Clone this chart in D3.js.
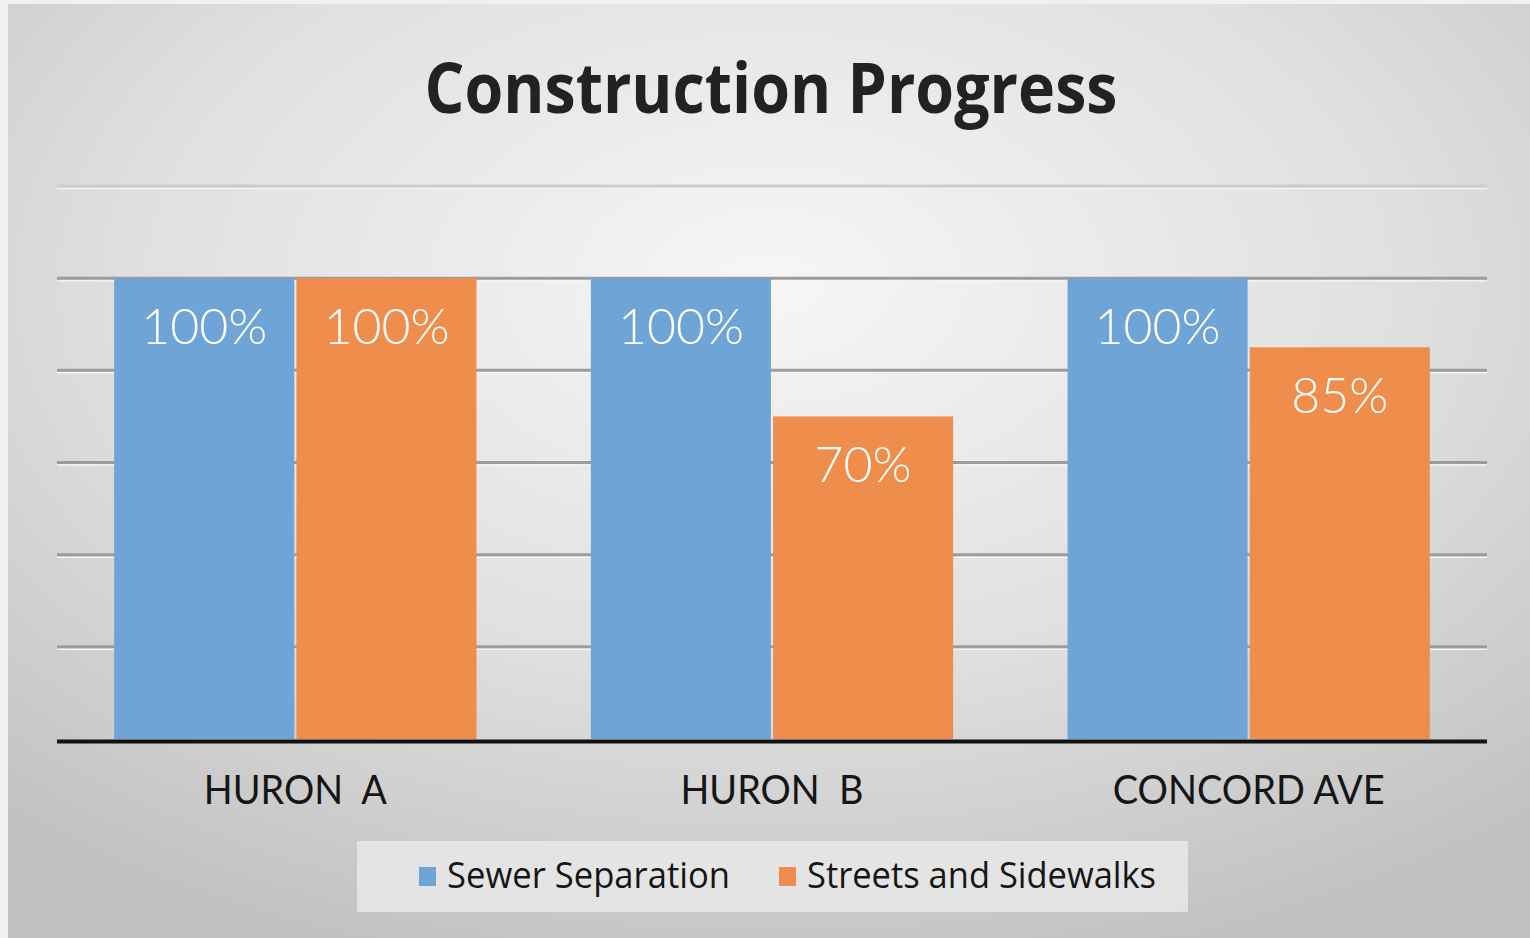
<!DOCTYPE html>
<html>
<head>
<meta charset="utf-8">
<title>Construction Progress</title>
<script src="https://d3js.org/d3.v7.min.js"></script>
<style>
  html, body { margin: 0; padding: 0; background: #f1f1f1; }
  svg { display: block; }
</style>
</head>
<body>
<script>
// data
var categories = ["HURON  A", "HURON  B", "CONCORD AVE"];
var seriesNames = ["Sewer Separation", "Streets and Sidewalks"];
var sewer = [1.00, 1.00, 1.00];
var streets = [1.00, 0.70, 0.85];
var tickValues = [0, 0.2, 0.4, 0.6, 0.8, 1.0, 1.2];
var colors = ["#6fa4d6", "#ee8d4c"];

var W = 1530, H = 938;
var plot = {left: 57, right: 1487, top: 186, bottom: 739};

var svg = d3.select("body").append("svg")
    .attr("width", W).attr("height", H);

// panel background with radial shading
var defs = svg.append("defs");
var grad = defs.append("radialGradient").attr("id", "bg")
    .attr("cx", "50%").attr("cy", "30%").attr("r", "75%");
grad.append("stop").attr("offset", "0%").attr("stop-color", "#f6f6f6");
grad.append("stop").attr("offset", "55%").attr("stop-color", "#e0e0e0");
grad.append("stop").attr("offset", "100%").attr("stop-color", "#c2c2c2");

svg.append("rect").attr("x", 8).attr("y", 4)
    .attr("width", W - 8).attr("height", H - 4)
    .attr("fill", "url(#bg)");

var x0 = d3.scaleBand().domain(categories)
    .range([plot.left, plot.right])
    .paddingInner(0.24).paddingOuter(0.12);
var x1 = d3.scaleBand().domain(seriesNames)
    .range([0, x0.bandwidth()]).paddingInner(0.012);
var y = d3.scaleLinear().domain([0, 1.2]).range([plot.bottom, plot.top]);

// gridlines
var grid = svg.append("g");
grid.selectAll("line.shadow").data(tickValues.slice(1)).enter().append("line")
    .attr("x1", plot.left).attr("x2", plot.right)
    .attr("y1", function(d) { return y(d) + 2.5; })
    .attr("y2", function(d) { return y(d) + 2.5; })
    .attr("stroke", "#f4f4f4").attr("stroke-width", 1.5);
grid.selectAll("line.grid").data(tickValues.slice(1)).enter().append("line")
    .attr("x1", plot.left).attr("x2", plot.right)
    .attr("y1", function(d) { return y(d); })
    .attr("y2", function(d) { return y(d); })
    .attr("stroke", function(d) { return d > 1.1 ? "#cdcdcd" : "#9c9c9c"; })
    .attr("stroke-width", 3);

// bars
var rows = categories.map(function(c, i) {
  return {cat: c, values: [sewer[i], streets[i]]};
});
var groups = svg.selectAll("g.cat").data(rows).enter().append("g")
    .attr("transform", function(d) { return "translate(" + x0(d.cat) + ",0)"; });

groups.selectAll("rect").data(function(d) {
    return d.values.map(function(v, j) { return {name: seriesNames[j], v: v, j: j}; });
  }).enter().append("rect")
    .attr("x", function(d) { return x1(d.name); })
    .attr("y", function(d) { return y(d.v); })
    .attr("width", x1.bandwidth())
    .attr("height", function(d) { return y(0) - y(d.v); })
    .attr("fill", function(d) { return colors[d.j]; });

groups.selectAll("text").data(function(d) {
    return d.values.map(function(v, j) { return {name: seriesNames[j], v: v}; });
  }).enter().append("text")
    .attr("x", function(d) { return x1(d.name) + x1.bandwidth() / 2; })
    .attr("y", function(d) { return y(d.v) + 66; })
    .attr("text-anchor", "middle")
    .attr("fill", "#ffffff")
    .style("font-family", "Lato, sans-serif")
    .style("font-weight", 300)
    .style("font-size", "50px")
    .text(function(d) { return Math.round(d.v * 100) + "%"; });

// baseline
svg.append("line")
    .attr("x1", plot.left).attr("x2", plot.right)
    .attr("y1", y(0) + 2.5).attr("y2", y(0) + 2.5)
    .attr("stroke", "#111").attr("stroke-width", 4);

// category axis labels
var xAxis = d3.axisBottom(x0).tickSize(0).tickPadding(0);
var ax = svg.append("g").attr("transform", "translate(0," + plot.bottom + ")").call(xAxis);
ax.select(".domain").remove();
ax.selectAll("text")
    .attr("y", 65).attr("dy", 0)
    .attr("fill", "#151515")
    .style("font-family", "Lato, sans-serif")
    .style("font-size", "40px")
    .style("white-space", "pre")
    .attr("textLength", function(d, i) { return [183, 183, 272][i]; })
    .attr("lengthAdjust", "spacingAndGlyphs");

// title
svg.append("text")
    .attr("x", 771).attr("y", 113)
    .attr("text-anchor", "middle")
    .attr("fill", "#222")
    .style("font-family", "'Open Sans', sans-serif")
    .style("font-weight", 700)
    .style("font-size", "70px")
    .attr("textLength", 693).attr("lengthAdjust", "spacingAndGlyphs")
    .text("Construction Progress");

// legend
var legend = svg.append("g");
legend.append("rect").attr("x", 357).attr("y", 841)
    .attr("width", 831).attr("height", 71)
    .attr("fill", "#ececec").attr("opacity", 0.75);
var legX = [419, 779], legW = [283, 349];
var li = legend.selectAll("g.item").data(seriesNames).enter().append("g");
li.append("rect")
    .attr("x", function(d, i) { return legX[i]; }).attr("y", 867)
    .attr("width", 17).attr("height", 19)
    .attr("fill", function(d, i) { return colors[i]; });
li.append("text")
    .attr("x", function(d, i) { return legX[i] + 28; }).attr("y", 888)
    .attr("fill", "#151515")
    .style("font-family", "'Open Sans', sans-serif")
    .style("font-size", "36px")
    .attr("textLength", function(d, i) { return legW[i]; })
    .attr("lengthAdjust", "spacingAndGlyphs")
    .text(function(d) { return d; });
</script>
</body>
</html>
